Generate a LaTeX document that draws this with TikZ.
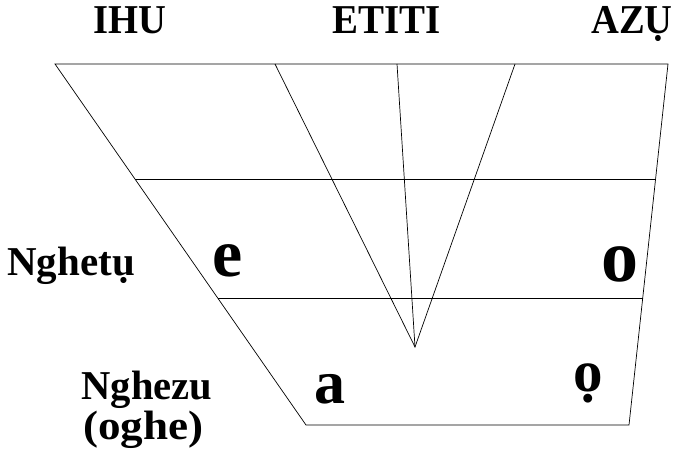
\documentclass[tikz,border=0pt]{standalone}
\usepackage{fontspec}
\setmainfont{Liberation Serif}
\usetikzlibrary{calc}
\begin{document}
\begin{tikzpicture}[x=1pt,y=-1pt,line width=0.7pt,
  lbl/.style={font=\bfseries\fontsize{41}{36}\selectfont,inner sep=0},
  vow/.style={inner sep=0,font=\bfseries\fontsize{#1}{#1}\selectfont}]
\useasboundingbox (0,0) rectangle (674,449);
\coordinate (TL) at (55,64);
\coordinate (TR) at (668,64);
\coordinate (BL) at (306,425);
\coordinate (BR) at (629,425);
\coordinate (A1) at (275,64);
\coordinate (A2) at (397,64);
\coordinate (A3) at (515,64);
\coordinate (V) at (415,347);
\coordinate (L1) at ($(TL)!0.3186!(BL)$);
\coordinate (R1) at ($(TR)!0.3186!(BR)$);
\coordinate (L2) at ($(TL)!0.6496!(BL)$);
\coordinate (R2) at ($(TR)!0.6496!(BR)$);
\draw (TL) -- (TR) -- (BR) -- (BL) -- cycle;
\draw (L1) -- (R1);
\draw (L2) -- (R2);
\draw (A1) -- (V) -- (A3);
\draw (A2) -- (V);
% titles
\node[lbl,anchor=base] (ihu) at (129.5,34) {\scalebox{0.94}[1]{IHU}};
\node[lbl,anchor=base] (etiti) at (386.7,34) {\scalebox{0.95}[1]{ETITI}};
\node[lbl,anchor=base east] (azu) at (673,34) {\scalebox{0.94}[1]{AZỤ}};
% row labels
\node[lbl,anchor=base west] (nghetu) at (7,275) {\scalebox{1.0}[1]{Nghetụ}};
\node[lbl,anchor=base] (nghezu) at (147,399) {\scalebox{0.99}[1]{Nghezu}};
\node[lbl,anchor=base] (oghe) at (143.5,439) {\scalebox{1.1}[1]{(oghe)}};
% vowels
\node[vow=68,anchor=base west] (e) at (212,276.5) {e};
\node[vow=74,anchor=base west] (o) at (601,281.5) {o};
\node[vow=62,anchor=base west] (a) at (314,403) {a};
\node[vow=59,anchor=base west] (od) at (573,391.5) {ọ};
\end{tikzpicture}
\end{document}
